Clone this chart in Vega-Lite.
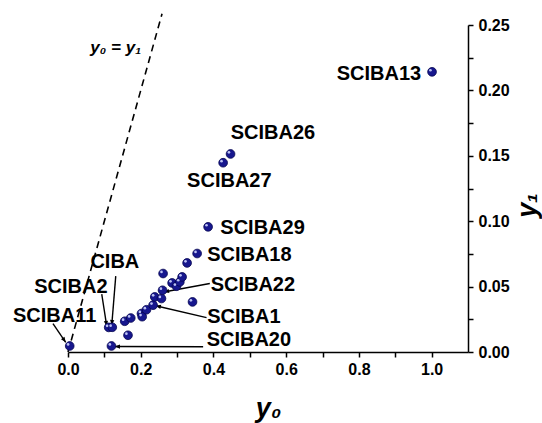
{
  "$schema": "https://vega.github.io/schema/vega-lite/v6.json",
  "autosize": {"type": "none"},
  "padding": {"left": 68, "top": 25, "right": 74, "bottom": 71},
  "width": 400,
  "height": 327,
  "background": "white",
  "config": {"view": {"stroke": null}, "font": "Liberation Sans"},
  "datasets": {
    "samples": [
      {"sample": "SCIBA11", "y0": 0.0047, "y1": 0.0046},
      {"sample": "SCIBA2", "y0": 0.112, "y1": 0.0188},
      {"sample": "CIBA", "y0": 0.1217, "y1": 0.0189},
      {"sample": "SCIBA20", "y0": 0.1195, "y1": 0.0046},
      {"sample": "", "y0": 0.156, "y1": 0.0235},
      {"sample": "", "y0": 0.1726, "y1": 0.026},
      {"sample": "", "y0": 0.165, "y1": 0.0128},
      {"sample": "", "y0": 0.202, "y1": 0.0294},
      {"sample": "", "y0": 0.204, "y1": 0.027},
      {"sample": "", "y0": 0.2158, "y1": 0.0323},
      {"sample": "SCIBA1", "y0": 0.234, "y1": 0.0358},
      {"sample": "", "y0": 0.2386, "y1": 0.0421},
      {"sample": "", "y0": 0.257, "y1": 0.0409},
      {"sample": "", "y0": 0.2615, "y1": 0.06},
      {"sample": "SCIBA22", "y0": 0.26, "y1": 0.0472},
      {"sample": "", "y0": 0.2863, "y1": 0.0528},
      {"sample": "", "y0": 0.2984, "y1": 0.0503},
      {"sample": "", "y0": 0.3075, "y1": 0.0536},
      {"sample": "", "y0": 0.3138, "y1": 0.0574},
      {"sample": "", "y0": 0.3275, "y1": 0.0681},
      {"sample": "", "y0": 0.3424, "y1": 0.0383},
      {"sample": "SCIBA18", "y0": 0.3551, "y1": 0.0753},
      {"sample": "SCIBA29", "y0": 0.3853, "y1": 0.0957},
      {"sample": "SCIBA27", "y0": 0.4266, "y1": 0.1447},
      {"sample": "SCIBA26", "y0": 0.447, "y1": 0.1514},
      {"sample": "SCIBA13", "y0": 1.0011, "y1": 0.2142}
    ],
    "labels": [
      {"label": "SCIBA13", "y0": 0.855, "y1": 0.2126},
      {"label": "SCIBA26", "y0": 0.5635, "y1": 0.1678},
      {"label": "SCIBA27", "y0": 0.4437, "y1": 0.1307},
      {"label": "SCIBA29", "y0": 0.535, "y1": 0.0947},
      {"label": "SCIBA18", "y0": 0.4988, "y1": 0.0738},
      {"label": "SCIBA22", "y0": 0.5084, "y1": 0.0516},
      {"label": "SCIBA1", "y0": 0.4836, "y1": 0.0266},
      {"label": "SCIBA20", "y0": 0.4974, "y1": 0.009},
      {"label": "CIBA", "y0": 0.1288, "y1": 0.0687},
      {"label": "SCIBA2", "y0": 0.008, "y1": 0.0495},
      {"label": "SCIBA11", "y0": -0.0366, "y1": 0.0277}
    ],
    "arrows": [
      {"label": "SCIBA22", "y0": 0.2634, "y1": 0.0459, "from0": 0.39, "from1": 0.0524},
      {"label": "SCIBA1", "y0": 0.241, "y1": 0.0354, "from0": 0.381, "from1": 0.0263},
      {"label": "SCIBA20", "y0": 0.1285, "y1": 0.0042, "from0": 0.3716, "from1": 0.004},
      {"label": "CIBA", "y0": 0.1203, "y1": 0.0204, "from0": 0.1313, "from1": 0.058},
      {"label": "SCIBA2", "y0": 0.1065, "y1": 0.0197, "from0": 0.0928, "from1": 0.0442},
      {"label": "SCIBA11", "y0": -0.0063, "y1": 0.0074, "from0": -0.0413, "from1": 0.0217}
    ],
    "identity": [
      {"y0": 0, "y1": 0},
      {"y0": 0.2586, "y1": 0.2586}
    ]
  },
  "encoding": {
    "x": {
      "field": "y0",
      "type": "quantitative",
      "scale": {"domain": [0, 1.1], "nice": false, "zero": false},
      "axis": {
        "title": "y₀",
        "orient": "bottom",
        "values": [0, 0.1, 0.2, 0.3, 0.4, 0.5, 0.6, 0.7, 0.8, 0.9, 1.0],
        "format": ".1f",
        "labelExpr": "round(datum.value * 10) % 2 === 0 ? datum.label : ''",
        "grid": false,
        "domainColor": "black",
        "domainWidth": 1.5,
        "tickColor": "black",
        "tickWidth": 1.5,
        "tickSize": 5,
        "labelFont": "Liberation Sans",
        "labelFontWeight": "bold",
        "labelFontSize": 16,
        "labelColor": "black",
        "labelPadding": 4,
        "labelFlush": false,
        "labelOverlap": false,
        "titleFont": "Liberation Sans",
        "titleFontSize": 27,
        "titleFontWeight": "bold",
        "titleFontStyle": "italic",
        "titleColor": "black",
        "titleY": 64,
        "titleBaseline": "alphabetic"
      }
    },
    "y": {
      "field": "y1",
      "type": "quantitative",
      "scale": {"domain": [0, 0.25], "nice": false, "zero": false},
      "axis": {
        "title": "y₁",
        "orient": "right",
        "values": [0, 0.025, 0.05, 0.075, 0.1, 0.125, 0.15, 0.175, 0.2, 0.225, 0.25],
        "format": ".2f",
        "labelExpr": "round(datum.value * 40) % 2 === 0 ? datum.label : ''",
        "grid": false,
        "domainColor": "black",
        "domainWidth": 1.5,
        "tickColor": "black",
        "tickWidth": 1.5,
        "tickSize": 5,
        "labelFont": "Liberation Sans",
        "labelFontWeight": "bold",
        "labelFontSize": 16,
        "labelColor": "black",
        "labelPadding": 5,
        "labelFlush": false,
        "labelOverlap": false,
        "titleFont": "Liberation Sans",
        "titleFontSize": 27,
        "titleFontWeight": "bold",
        "titleFontStyle": "italic",
        "titleColor": "black",
        "titleAngle": 270,
        "titleX": 59,
        "titleY": 180,
        "titleAlign": "center",
        "titleBaseline": "middle"
      }
    }
  },
  "layer": [
    {
      "data": {"name": "identity"},
      "mark": {"type": "line", "color": "black", "strokeWidth": 1.6, "strokeDash": [7, 5], "clip": false},
      "encoding": {}
    },
    {
      "data": {"name": "arrows"},
      "mark": {"type": "rule", "color": "black", "strokeWidth": 1.4, "clip": false},
      "encoding": {
        "x2": {"field": "from0"},
        "y2": {"field": "from1"}
      }
    },
    {
      "data": {"name": "arrows"},
      "transform": [
        {"calculate": "atan2(-(datum.y1 - datum.from1) * 1306, (datum.y0 - datum.from0) * 363.3) * 180 / PI", "as": "heading"}
      ],
      "mark": {"type": "point", "shape": "M0,0L-2,-0.8L-2,0.8Z", "filled": true, "color": "black", "size": 28, "opacity": 1, "clip": false},
      "encoding": {
        "angle": {"field": "heading", "type": "quantitative", "scale": null}
      }
    },
    {
      "data": {"name": "samples"},
      "mark": {"type": "circle", "size": 76, "fill": "#17178e", "stroke": "#05054f", "strokeWidth": 0.8, "opacity": 1},
      "encoding": {}
    },
    {
      "data": {"name": "samples"},
      "mark": {"type": "circle", "size": 7, "color": "#cfd6ff", "opacity": 0.9, "xOffset": -1.6, "yOffset": -1.6},
      "encoding": {}
    },
    {
      "data": {"name": "labels"},
      "mark": {"type": "text", "font": "Liberation Sans", "fontSize": 20, "fontWeight": "bold", "color": "black", "align": "center", "baseline": "middle", "clip": false},
      "encoding": {"text": {"field": "label"}}
    },
    {
      "data": {"values": [{"y0": 0.131, "y1": 0.2325, "label": "y₀ = y₁"}]},
      "mark": {"type": "text", "font": "Liberation Sans", "fontSize": 17, "fontWeight": "bold", "fontStyle": "italic", "color": "black", "align": "center", "baseline": "middle", "clip": false},
      "encoding": {"text": {"field": "label"}}
    }
  ]
}
